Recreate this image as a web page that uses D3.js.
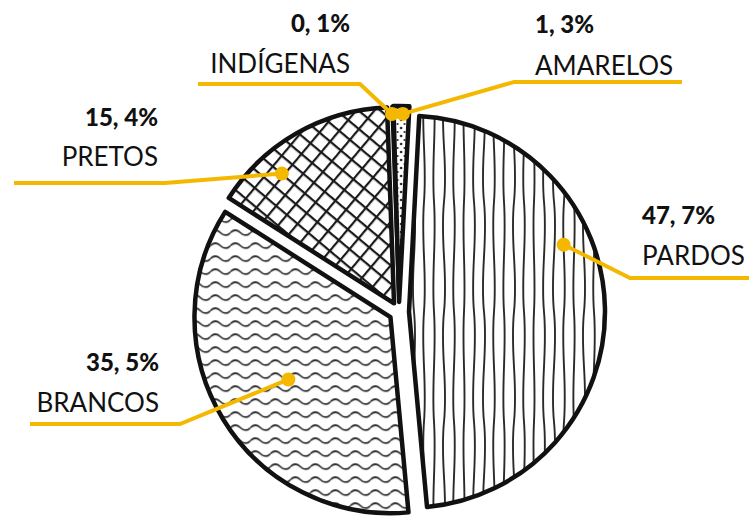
<!DOCTYPE html>
<html>
<head>
<meta charset="utf-8">
<script src="https://cdn.jsdelivr.net/npm/d3@7"></script>
<style>
  body { margin: 0; background: #fff; }
  svg { display: block; }
</style>
</head>
<body>
<div class="chart"></div>
<script>
// data, clockwise from the top of the pie
var categories = ["Pardos", "Brancos", "Pretos", "Indígenas", "Amarelos"];
var labels = ["PARDOS", "BRANCOS", "PRETOS", "INDÍGENAS", "AMARELOS"];
var values = [47.7, 35.5, 15.4, 0.1, 1.3];
var patterns = ["wood", "waves", "grid", "blank", "dots"];

var svgWidth = 749;
var svgHeight = 522;
var cx = 399, cy = 312, radius = 196, explode = 10;
var gold = "#f5b800";

// label placement: dot inside slice (t = fraction of angle, r = fraction of radius),
// elbow and end of the leader line, text anchor
var labelLayout = [
  {t: 0.37, r: 0.86, elbow: [630, 278], end: [749, 278], x: 642, anchor: "start", y1: 224, y2: 265},
  {t: 0.5, r: 0.61, elbow: [180, 424], end: [30, 424], x: 159, anchor: "end", y1: 371, y2: 412},
  {t: 0.3, r: 0.875, elbow: [165, 183], end: [14, 183], x: 158, anchor: "end", y1: 126, y2: 166},
  {t: 0.0, r: 0.96, elbow: [360, 84], end: [198, 84], x: 350, anchor: "end", y1: 32, y2: 73},
  {t: 0.6, r: 0.96, elbow: [514, 82], end: [682, 82], x: 535, anchor: "start", y1: 33, y2: 75}
];

var svg = d3.select(".chart").append("svg")
  .attr("width", svgWidth)
  .attr("height", svgHeight);

// hatching patterns
var defs = svg.append("defs");

var wood = defs.append("pattern").attr("id", "wood")
  .attr("patternUnits", "userSpaceOnUse")
  .attr("width", 70).attr("height", 220);
for (var i = 0; i < 7; i++) {
  var x0 = 5 + i * 10;
  var a = [4, -3, 2.5, -4, 3, -2, 3.5][i];
  wood.append("path")
    .attr("d", "M" + x0 + ",0 C" + (x0 + a) + ",40 " + (x0 - a) + ",70 " + x0 + ",110 C" +
      (x0 + a) + ",150 " + (x0 - a) + ",180 " + x0 + ",220")
    .attr("fill", "none").attr("stroke", "#2a2a2a").attr("stroke-width", 1.9);
}

var waves = defs.append("pattern").attr("id", "waves")
  .attr("patternUnits", "userSpaceOnUse")
  .attr("width", 20).attr("height", 13);
waves.append("path")
  .attr("d", "M0,6.5 Q5,1.5 10,6.5 T20,6.5")
  .attr("fill", "none").attr("stroke", "#2a2a2a").attr("stroke-width", 1.7);

var grid = defs.append("pattern").attr("id", "grid")
  .attr("patternUnits", "userSpaceOnUse")
  .attr("width", 14).attr("height", 14)
  .attr("patternTransform", "rotate(40)");
grid.append("path")
  .attr("d", "M0,1 H14 M1,0 V14")
  .attr("fill", "none").attr("stroke", "#1a1a1a").attr("stroke-width", 2.4);

var dots = defs.append("pattern").attr("id", "dots")
  .attr("patternUnits", "userSpaceOnUse")
  .attr("width", 7).attr("height", 8);
dots.append("circle").attr("cx", 2).attr("cy", 2).attr("r", 1.3).attr("fill", "#222");
dots.append("circle").attr("cx", 5.5).attr("cy", 6).attr("r", 1.1).attr("fill", "#222");

defs.append("pattern").attr("id", "blank")
  .attr("patternUnits", "userSpaceOnUse")
  .attr("width", 4).attr("height", 4)
  .append("rect").attr("width", 4).attr("height", 4).attr("fill", "#fff");

// pie
var start = 3 * Math.PI / 180;
var pie = d3.pie().sort(null).startAngle(start).endAngle(start + 2 * Math.PI);
var arcs = pie(values);
var arc = d3.arc().innerRadius(0).outerRadius(radius);

function offset(d) {
  var m = (d.startAngle + d.endAngle) / 2;
  return [explode * Math.sin(m), -explode * Math.cos(m)];
}

var slices = svg.append("g")
  .selectAll("g")
  .data(arcs)
  .enter().append("g")
  .attr("transform", function(d) {
    var o = offset(d);
    return "translate(" + (cx + o[0]) + "," + (cy + o[1]) + ")";
  });

slices.append("path")
  .attr("d", arc)
  .attr("fill", "#fff");

slices.append("path")
  .attr("d", arc)
  .attr("fill", function(d, i) { return "url(#" + patterns[i] + ")"; })
  .attr("stroke", "#111")
  .attr("stroke-width", function(d, i) { return values[i] < 1 ? 3 : 4.5; })
  .attr("stroke-linejoin", "round");

// leader lines and labels
var ann = svg.append("g");
arcs.forEach(function(d, i) {
  var L = labelLayout[i];
  var o = offset(d);
  var ang = d.startAngle + L.t * (d.endAngle - d.startAngle);
  var px = cx + o[0] + L.r * radius * Math.sin(ang);
  var py = cy + o[1] - L.r * radius * Math.cos(ang);

  ann.append("polyline")
    .attr("points", [[px, py], L.elbow, L.end].map(function(p) { return p.join(","); }).join(" "))
    .attr("fill", "none")
    .attr("stroke", gold)
    .attr("stroke-width", 4);

  ann.append("circle")
    .attr("cx", px).attr("cy", py).attr("r", 7)
    .attr("fill", gold);

  ann.append("text")
    .attr("x", L.x).attr("y", L.y1)
    .attr("text-anchor", L.anchor)
    .attr("font-family", "Lato, sans-serif")
    .attr("font-weight", 900)
    .attr("font-size", 24)
    .attr("fill", "#111")
    .text(String(values[i]).replace(".", ", ") + "%");

  ann.append("text")
    .attr("x", L.x).attr("y", L.y2)
    .attr("text-anchor", L.anchor)
    .attr("font-family", "Lato, sans-serif")
    .attr("font-weight", 400)
    .attr("font-size", 26)
    .attr("fill", "#111")
    .text(labels[i]);
});
</script>
</body>
</html>
